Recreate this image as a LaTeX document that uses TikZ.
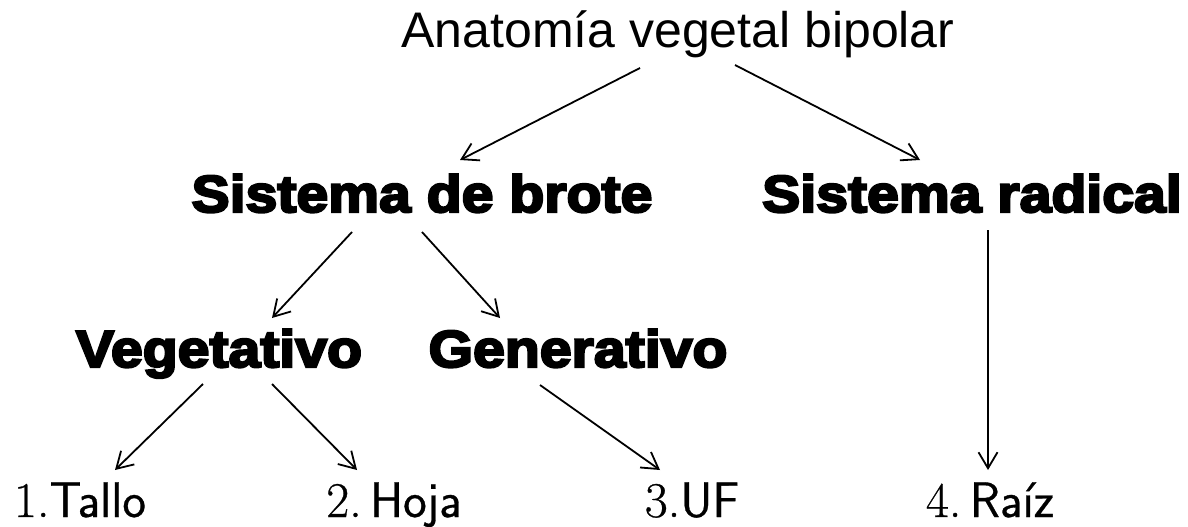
\documentclass[tikz,border=0pt]{standalone}
\usepackage{fontspec}
\newfontfamily\titlefont{Liberation Sans}
\newfontfamily\heavy[FakeBold=4.5,FakeStretch=1.1]{Liberation Sans Bold}
\newfontfamily\numfont[FakeBold=0.6]{Latin Modern Roman}
\newfontfamily\wordfont[FakeBold=0.6]{Latin Modern Sans}
\usetikzlibrary{arrows.meta}
\tikzset{
  ttl/.style={anchor=base,inner sep=0pt,font=\titlefont\fontsize{50}{60}\selectfont},
  hv/.style={anchor=base,inner sep=0pt,font=\heavy\fontsize{52}{62}\selectfont},
  leaf/.style={anchor=base,inner sep=0pt,font=\fontsize{50}{60}\selectfont},
  arr/.style={line width=1.8pt,-{Straight Barb[length=16pt,width=19pt,line width=1.8pt]}}
}
\begin{document}
\begin{tikzpicture}[x=1pt,y=-1pt]
\useasboundingbox (0,0) rectangle (1188,527);
\node[ttl] (title) at (678,48) {Anatomía vegetal bipolar};
\node[hv] (sdb) at (422,212) {Sistema de brote};
\node[hv] (sr) at (972,212) {Sistema radical};
\node[hv] (veg) at (219,367) {Vegetativo};
\node[hv] (gen) at (578,367) {Generativo};
\node[leaf] (tallo) at (80,517) {\numfont 1.\wordfont Tallo};
\node[leaf] (hoja) at (394,517) {\numfont 2.\,\wordfont Hoja};
\node[leaf] (uf) at (692,517) {\numfont 3.\wordfont UF};
\node[leaf] (raiz) at (990,517) {\numfont 4.\,\wordfont Raíz};
\draw[arr] ([shift={(-38,20)}]title.base) -- ([shift={(38,-52)}]sdb.base);
\draw[arr] ([shift={(57,17)}]title.base) -- ([shift={(-52,-52)}]sr.base);
\draw[arr] ([shift={(-70,20)}]sdb.base) -- ([shift={(53,-49)}]veg.base);
\draw[arr] ([shift={(0,20)}]sdb.base) -- ([shift={(-78,-49)}]gen.base);
\draw[arr] ([shift={(-16,17)}]veg.base) -- ([shift={(35,-47)}]tallo.base);
\draw[arr] ([shift={(53,17)}]veg.base) -- ([shift={(-37,-47)}]hoja.base);
\draw[arr] ([shift={(-38,18)}]gen.base) -- ([shift={(-32,-47)}]uf.base);
\draw[arr] ([shift={(16,18)}]sr.base) -- ([shift={(-2,-47)}]raiz.base);
\end{tikzpicture}
\end{document}
